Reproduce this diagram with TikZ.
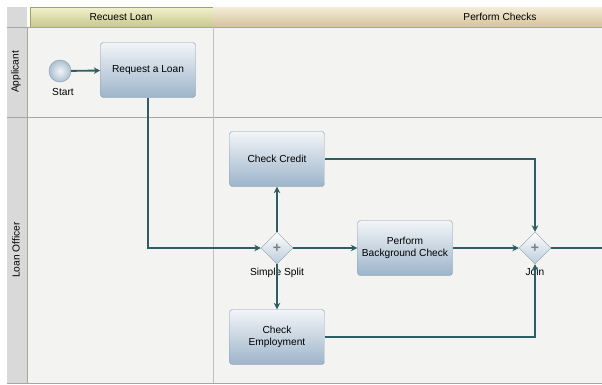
\documentclass[tikz,border=0pt]{standalone}
\usepackage{fontspec}
\setmainfont{Liberation Sans}
\usetikzlibrary{shapes.geometric,arrows.meta}

\definecolor{flow}{HTML}{2E5E63}
\definecolor{lanebg}{HTML}{F3F3F2}
\definecolor{labelbg}{HTML}{D9D9D9}
\definecolor{laneline}{HTML}{A6A6A6}
\definecolor{boxtop}{HTML}{F2F5F8}
\definecolor{boxmid}{HTML}{D3DEE8}
\definecolor{boxbot}{HTML}{9DB4CA}
\definecolor{boxline}{HTML}{8E9CA9}
\definecolor{gatebot}{HTML}{B9CDDC}
\definecolor{oliveTop}{HTML}{F1F1CE}
\definecolor{oliveBot}{HTML}{C8C88C}
\definecolor{oliveLine}{HTML}{A3A35C}
\definecolor{tanTop}{HTML}{F4ECD8}
\definecolor{tanBot}{HTML}{D4C39B}

\begin{document}
\begin{tikzpicture}[x=0.03cm,y=-0.03cm,font=\fontsize{8.7}{10.2}\selectfont]
                \tikzstyle{task}=[draw=boxline, rounded corners=2.5pt, top color=boxtop, middle color=boxmid, bottom color=boxbot, minimum width=2.85cm, minimum height=1.65cm, align=center, inner sep=1pt]
                \tikzstyle{gate}=[diamond, draw=boxline, top color=white, bottom color=gatebot, minimum size=0.96cm, inner sep=0pt, text=gray, font=\large\bfseries]
                \tikzstyle{startev}=[circle, draw=boxline, inner color=boxtop, outer color=boxbot!85, minimum size=0.66cm]
                \tikzstyle{flowline}=[draw=flow, line width=1.6pt, -{Stealth[length=5.5pt,width=5.5pt]}]
                \useasboundingbox (0,0) rectangle (602,385);
                % lanes and headers
                \fill [lanebg] (27,27) rectangle (602,383);
                \fill [labelbg] (7,7) rectangle (27,383);
                \shade [top color=oliveTop, bottom color=oliveBot, draw=oliveLine] (30,7) rectangle (213,27);
                \shade [top color=tanTop, bottom color=tanBot] (213,7) rectangle (602,27);
                \draw [laneline, line width=0.8pt] (7,27) -- (602,27);
                \draw [laneline, line width=0.8pt] (7,117) -- (602,117);
                \draw [laneline, line width=0.8pt] (7,383) -- (602,383);
                \draw [laneline] (27,27) -- (27,383);
                \draw [laneline!70] (213,27) -- (213,383);
                \node (hdrA) at (121,17) {Recuest Loan};
                \node (hdrB) at (500,17) {Perform Checks};
                \node [rotate=90] (laneA) at (16,72) {Applicant};
                \node [rotate=90] (laneB) at (16,250) {Loan Officer};
                % flow objects
                \node [startev] (start) at (60,71) {};
                \node (startlbl) at (63,92) {Start};
                \node [task] (request) at (148,70) {Request a Loan};
                \node [task] (credit) at (277,159) {Check Credit};
                \node [gate] (split) at (277,248) {+};
                \node (splitlbl) at (277,273) {Simple Split};
                \node [task] (employ) at (277,337) {Check\\Employment};
                \node [task] (background) at (405,248) {Perform\\Background Check};
                \node [gate] (join) at (535,248) {+};
                \node (joinlbl) at (535,272) {Join};
                \coordinate (out) at (602,248);
                % sequence flows
                \draw [flowline] (start) -- (request);
                \draw [flowline] (request.south) |- (split.west);
                \draw [flowline] (split) -- (credit);
                \draw [flowline] (split) -- (employ);
                \draw [flowline] (split) -- (background);
                \draw [flowline] (credit.east) -| (join.north);
                \draw [flowline] (background) -- (join);
                \draw [flowline] (employ.east) -| (join.south);
                \draw [draw=flow, line width=1.6pt] (join) -- (out);
\end{tikzpicture}
\end{document}
